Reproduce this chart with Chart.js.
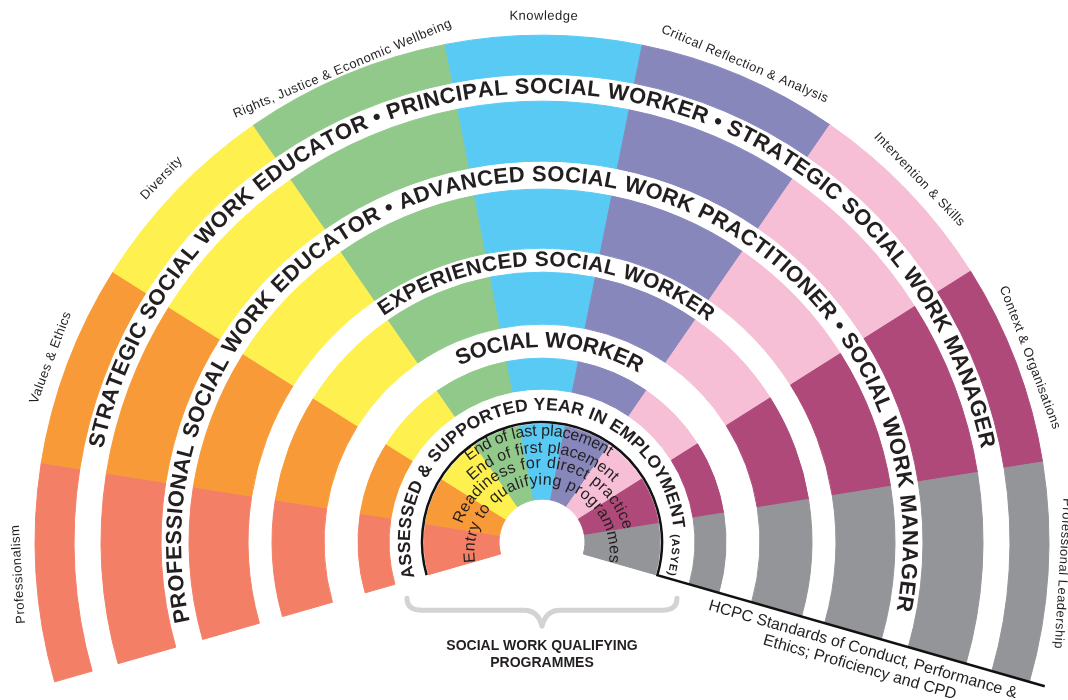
<!DOCTYPE html>
<html>
<head>
<meta charset="utf-8">
<title>Professional Capabilities Framework</title>
<script src="https://cdn.jsdelivr.net/npm/chart.js@4.4.1/dist/chart.umd.min.js"></script>
<style>
  html, body { margin: 0; padding: 0; background: #fff; }
  #wrap { position: relative; width: 1068px; height: 700px; }
</style>
</head>
<body>
<div id="wrap"><canvas id="fan"></canvas></div>
<script>
// domains round the fan, left to right, and the degrees each one takes
const domains = [
  "Professionalism",
  "Values & Ethics",
  "Diversity",
  "Rights, Justice & Economic Wellbeing",
  "Knowledge",
  "Critical Reflection & Analysis",
  "Intervention & Skills",
  "Context & Organisations",
  "Professional Leadership",
];
const domainSpan = [25, 23.2, 23.1, 23.7, 22.4, 23.2, 23.1, 23.2, 25.1];
const domainColours = [
  "#F37F67", "#F89A37", "#FEF04E", "#91C98B", "#58CAF3",
  "#8887BC", "#F6BFD6", "#AE4979", "#939598",
];

// career levels, outermost ring first
const levelText = [
  "STRATEGIC SOCIAL WORK EDUCATOR • PRINCIPAL SOCIAL WORKER • STRATEGIC SOCIAL WORK MANAGER",
  "PROFESSIONAL SOCIAL WORK EDUCATOR • ADVANCED SOCIAL WORK PRACTITIONER • SOCIAL WORK MANAGER",
  "EXPERIENCED SOCIAL WORKER",
  "SOCIAL WORKER",
  "ASSESSED & SUPPORTED YEAR IN EMPLOYMENT",
];
const asyeTag = "(ASYE)";

// qualifying programme stages, outermost first
const qualifyingStages = [
  "End of last placement",
  "End of first placement",
  "Readiness for direct practice",
  "Entry to qualifying programmes",
];

const hcpcLines = ["HCPC Standards of Conduct, Performance &", "Ethics; Proficiency and CPD"];
const braceLines = ["SOCIAL WORK QUALIFYING", "PROGRAMMES"];

// ---- layout (px / degrees) ----
const fanStart = -16; // degrees below the left horizontal
const fanSize = domainSpan.reduce((a, b) => a + b, 0);
const outerR = 507;
const holeR = 43;
// ring thickness, outermost first; bands between rings carry the level names
const ringWidths = [39, 27, 60, 28, 59, 24, 52, 34, 31, 35, 75];
const ringFilled = [true, false, true, false, true, false, true, false, true, false, true];

const levelPos = [
  { r: 455, from: 12, to: 168, size: 22 },
  { r: 367, from: -12.7, to: 190.9, size: 22 },
  { r: 282, from: 55, to: 127, size: 21 },
  { r: 201, from: 65, to: 119.7, size: 22 },
  { r: 137, from: -15.3, to: 174, size: 17.5 },
];
// the stage lines sit on arcs drawn round a point a little below the fan centre
const stageDrop = 10;
const stagePos = [
  { r: 121, from: 51.4, to: 124.8 },
  { r: 104, from: 45.8, to: 135.4 },
  { r: 89, from: 19.5, to: 164.6 },
  { r: 72, from: -8.5, to: 188.5 },
];

const FONT = "'Liberation Sans', Arial, Helvetica, sans-serif";
const INK = "#231F20";

const ang = (phi) => ((180 + phi) * Math.PI) / 180;

function arcText(ctx, cx, cy, text, r, from, to, font) {
  ctx.save();
  ctx.font = font;
  ctx.fillStyle = INK;
  ctx.textAlign = "center";
  ctx.textBaseline = "middle";
  const chars = [...text];
  const widths = chars.map((c) => ctx.measureText(c).width);
  const natural = widths.reduce((a, b) => a + b, 0);
  const arcLen = (r * (to - from) * Math.PI) / 180;
  const extra = chars.length > 1 ? (arcLen - natural) / (chars.length - 1) : 0;
  let s = 0;
  chars.forEach((c, i) => {
    const a = ang(from) + (s + widths[i] / 2) / r;
    ctx.save();
    ctx.translate(cx + r * Math.cos(a), cy + r * Math.sin(a));
    ctx.rotate(a + Math.PI / 2);
    ctx.fillText(c, 0, 0);
    ctx.restore();
    s += widths[i] + extra;
  });
  ctx.restore();
}

const fanText = {
  id: "fanText",
  afterDatasetsDraw(chart) {
    const ctx = chart.ctx;
    const el = chart.getDatasetMeta(0).data[0];
    const cx = el.x, cy = el.y;

    // domain names outside the fan
    ctx.save();
    ctx.font = "13px " + FONT;
    ctx.letterSpacing = "0.5px";
    ctx.fillStyle = INK;
    ctx.textAlign = "center";
    ctx.textBaseline = "middle";
    let phi = fanStart;
    domains.forEach((name, i) => {
      const mid = phi + domainSpan[i] / 2;
      phi += domainSpan[i];
      const w = ctx.measureText(name).width;
      const d = Math.sqrt(527 * 527 - (w / 2) * (w / 2));
      const a = ang(mid);
      ctx.save();
      ctx.translate(cx + d * Math.cos(a), cy + d * Math.sin(a));
      ctx.rotate(a + Math.PI / 2);
      ctx.fillText(name, 0, 0);
      ctx.restore();
    });
    ctx.restore();

    // level names in the white bands
    levelText.forEach((t, i) => {
      const p = levelPos[i];
      arcText(ctx, cx, cy, t, p.r, p.from, p.to, "bold " + p.size + "px " + FONT);
    });
    arcText(ctx, cx, cy, asyeTag, 133, 176.5, 194.5, "bold 11px " + FONT);

    // qualifying stages in the inner ring
    qualifyingStages.forEach((t, i) => {
      const p = stagePos[i];
      arcText(ctx, cx, cy + stageDrop, t, p.r, p.from, p.to, "16px " + FONT);
    });

    // black outline of the inner ring and the HCPC line
    ctx.save();
    ctx.strokeStyle = "#111";
    ctx.lineWidth = 2.5;
    ctx.beginPath();
    ctx.arc(cx, cy, 120, ang(fanStart), ang(fanStart + fanSize));
    const ea = ang(fanStart + fanSize);
    ctx.lineTo(cx + 523 * Math.cos(ea), cy + 523 * Math.sin(ea));
    ctx.stroke();
    ctx.restore();

    ctx.save();
    ctx.translate(cx, cy);
    ctx.rotate(ea);
    ctx.font = "16px " + FONT;
    ctx.fillStyle = INK;
    ctx.textAlign = "center";
    ctx.textBaseline = "middle";
    ctx.fillText(hcpcLines[0], 338, 15);
    ctx.fillText(hcpcLines[1], 340, 33);
    ctx.restore();

    // brace under the qualifying ring
    ctx.save();
    ctx.strokeStyle = "#D1D3D4";
    ctx.lineWidth = 5;
    ctx.lineCap = "round";
    ctx.lineJoin = "round";
    ctx.beginPath();
    ctx.moveTo(cx - 135, cy + 56);
    ctx.quadraticCurveTo(cx - 135, cy + 68, cx - 120, cy + 68);
    ctx.lineTo(cx - 18, cy + 68);
    ctx.quadraticCurveTo(cx - 4, cy + 68, cx, cy + 84);
    ctx.quadraticCurveTo(cx + 4, cy + 68, cx + 18, cy + 68);
    ctx.lineTo(cx + 120, cy + 68);
    ctx.quadraticCurveTo(cx + 135, cy + 68, cx + 135, cy + 56);
    ctx.stroke();
    ctx.font = "bold 14px " + FONT;
    ctx.fillStyle = INK;
    ctx.textAlign = "center";
    ctx.textBaseline = "middle";
    ctx.fillText(braceLines[0], cx, cy + 104);
    ctx.fillText(braceLines[1], cx, cy + 121);
    ctx.restore();
  },
};

const datasets = ringWidths.map((w, i) => ({
  label: ringFilled[i] ? "ring " + i : "band " + i,
  data: domainSpan,
  weight: w,
  backgroundColor: ringFilled[i] ? domainColours : "rgba(0,0,0,0)",
  borderColor: ringFilled[i] ? domainColours : "rgba(0,0,0,0)",
  borderWidth: ringFilled[i] ? 1 : 0,
  hoverOffset: 0,
}));

new Chart(document.getElementById("fan"), {
  type: "doughnut",
  data: { labels: domains, datasets: datasets },
  options: {
    responsive: true,
    maintainAspectRatio: false,
    animation: false,
    rotation: fanStart + 270,
    circumference: fanSize,
    radius: outerR,
    cutout: (holeR / outerR) * 100 + "%",
    layout: { padding: { left: 16, right: 0, top: 17, bottom: 0 } },
    plugins: { legend: { display: false }, tooltip: { enabled: false } },
    events: [],
  },
  plugins: [fanText],
});
</script>
</body>
</html>
